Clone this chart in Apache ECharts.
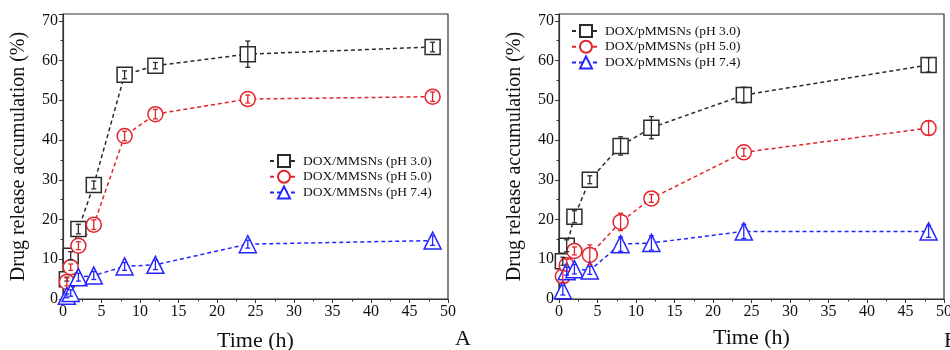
<!DOCTYPE html>
<html>
<head>
<meta charset="utf-8">
<script src="https://cdn.jsdelivr.net/npm/echarts@6/dist/echarts.min.js"></script>
<style>
  html, body { margin: 0; padding: 0; background: #fff; }
  #chart { width: 950px; height: 350px; }
</style>
</head>
<body>
<div id="chart"></div>
<script>
// sampling times (h)
const hours = [0.5, 1, 2, 4, 8, 12, 24, 48]

// panel A: DOX/MMSNs
const mmsnPH30 = [5.0, 10.9, 17.6, 28.7, 56.4, 58.7, 61.6, 63.4]
const mmsnPH50 = [4.3, 8.0, 13.4, 18.7, 41.0, 46.5, 50.3, 50.9]
const mmsnPH74 = [0.8, 1.5, 5.5, 5.9, 8.2, 8.6, 13.8, 14.7]
const mmsnErr30 = [0.5, 1.0, 1.2, 1.0, 1.0, 0.8, 3.3, 1.2]
const mmsnErr50 = [1.0, 0.8, 1.0, 1.2, 1.2, 1.2, 1.0, 1.2]
const mmsnErr74 = [0.5, 0.8, 1.0, 1.0, 1.0, 1.2, 1.0, 1.2]

// panel B: DOX/pMMSNs
const pmmsnPH30 = [9.5, 13.4, 20.7, 30.0, 38.5, 43.1, 51.3, 58.9]
const pmmsnPH50 = [5.7, 8.5, 12.1, 11.1, 19.4, 25.3, 36.9, 43.0]
const pmmsnPH74 = [2.2, 7.0, 7.5, 7.2, 13.8, 14.1, 17.0, 17.0]
const pmmsnErr30 = [1.0, 1.5, 1.5, 1.0, 2.3, 2.8, 2.0, 1.8]
const pmmsnErr50 = [1.5, 1.5, 1.0, 2.5, 2.2, 1.0, 1.0, 1.8]
const pmmsnErr74 = [1.2, 1.0, 1.2, 1.0, 1.8, 1.8, 1.8, 1.5]

const xTicks = [0, 5, 10, 15, 20, 25, 30, 35, 40, 45, 50]
const yTicks = [0, 10, 20, 30, 40, 50, 60, 70]

const FONT = '"Liberation Serif", "Times New Roman", serif'
const AXIS_COLOR = '#333'
const BLACK = '#2b2b2b'
const RED = '#e3242b'
const BLUE = '#2424ff'

const chart = echarts.init(document.getElementById('chart'))

function xAxisFor (gridIndex, nameGap) {
  return {
    gridIndex: gridIndex,
    type: 'value',
    min: xTicks[0],
    max: xTicks[xTicks.length - 1],
    interval: xTicks[1] - xTicks[0],
    name: 'Time (h)',
    nameLocation: 'middle',
    nameGap: nameGap,
    nameTextStyle: { fontFamily: FONT, fontSize: 22, color: '#111' },
    axisLine: { show: true, lineStyle: { color: AXIS_COLOR, width: 1.2 } },
    axisTick: { show: true, length: 4, lineStyle: { color: AXIS_COLOR } },
    minorTick: { show: true, splitNumber: 2, length: 2.5, lineStyle: { color: AXIS_COLOR } },
    axisLabel: { fontFamily: FONT, fontSize: 16, color: '#111', margin: 5 },
    splitLine: { show: false }
  }
}

function yAxisFor (gridIndex) {
  return {
    gridIndex: gridIndex,
    type: 'value',
    min: yTicks[0],
    max: 71.7,
    interval: yTicks[1] - yTicks[0],
    name: 'Drug release accumulation (%)',
    nameLocation: 'middle',
    nameGap: 34,
    nameTextStyle: { fontFamily: FONT, fontSize: 20, color: '#111' },
    axisLine: { show: true, lineStyle: { color: AXIS_COLOR, width: 1.2 } },
    axisTick: { show: true, length: 4, lineStyle: { color: AXIS_COLOR } },
    minorTick: { show: true, splitNumber: 2, length: 2.5, lineStyle: { color: AXIS_COLOR } },
    axisLabel: { fontFamily: FONT, fontSize: 16, color: '#111', margin: 5, showMaxLabel: false },
    splitLine: { show: false }
  }
}

function lineSeries (name, values, color, symbol, gridIndex) {
  return {
    name: name,
    type: 'line',
    xAxisIndex: gridIndex,
    yAxisIndex: gridIndex,
    data: hours.map((h, i) => [h, values[i]]),
    symbol: symbol,
    symbolSize: symbol === 'triangle' ? 17 : 15,
    itemStyle: { color: '#fff', borderColor: color, borderWidth: 1.5 },
    lineStyle: { color: color, width: 1.5, type: [4, 3] },
    z: 3
  }
}

// small vertical error bars with caps
function errorSeries (values, errs, color, gridIndex) {
  return {
    type: 'custom',
    xAxisIndex: gridIndex,
    yAxisIndex: gridIndex,
    data: hours.map((h, i) => [h, values[i], errs[i]]),
    encode: { x: 0, y: 1 },
    z: 4,
    silent: true,
    renderItem: function (params, api) {
      const x = api.value(0)
      const y = api.value(1)
      const e = api.value(2)
      const lo = api.coord([x, y - e])
      const hi = api.coord([x, y + e])
      const cap = 2.5
      const style = { stroke: color, lineWidth: 1.3 }
      return {
        type: 'group',
        children: [
          { type: 'line', shape: { x1: lo[0], y1: lo[1], x2: hi[0], y2: hi[1] }, style: style },
          { type: 'line', shape: { x1: lo[0] - cap, y1: lo[1], x2: lo[0] + cap, y2: lo[1] }, style: style },
          { type: 'line', shape: { x1: hi[0] - cap, y1: hi[1], x2: hi[0] + cap, y2: hi[1] }, style: style }
        ]
      }
    }
  }
}

const legendText = { fontFamily: FONT, fontSize: 13.5, color: '#111' }

chart.setOption({
  animation: false,
  backgroundColor: '#fff',
  grid: [
    { left: 63, right: 502, top: 14, bottom: 51, outerBoundsMode: 'none', containLabel: false, show: true, borderColor: AXIS_COLOR, borderWidth: 1.2 },
    { left: 559, right: 6, top: 14, bottom: 51, outerBoundsMode: 'none', containLabel: false, show: true, borderColor: AXIS_COLOR, borderWidth: 1.2 }
  ],
  legend: [
    {
      data: ['DOX/MMSNs (pH 3.0)', 'DOX/MMSNs (pH 5.0)', 'DOX/MMSNs (pH 7.4)'],
      orient: 'vertical',
      left: 264,
      top: 149,
      itemWidth: 28,
      itemHeight: 15,
      itemGap: 1.7,
      textStyle: legendText
    },
    {
      data: ['DOX/pMMSNs (pH 3.0)', 'DOX/pMMSNs (pH 5.0)', 'DOX/pMMSNs (pH 7.4)'],
      orient: 'vertical',
      left: 566,
      top: 19,
      itemWidth: 28,
      itemHeight: 15,
      itemGap: 1.7,
      textStyle: legendText
    }
  ],
  xAxis: [xAxisFor(0, 31), xAxisFor(1, 28)],
  yAxis: [yAxisFor(0), yAxisFor(1)],
  graphic: [
    { type: 'text', left: 455, top: 328, style: { text: 'A', font: '22px ' + FONT, fill: '#111' } },
    { type: 'text', left: 944, top: 330, style: { text: 'B', font: '22px ' + FONT, fill: '#111' } }
  ],
  series: [
    lineSeries('DOX/MMSNs (pH 3.0)', mmsnPH30, BLACK, 'rect', 0),
    lineSeries('DOX/MMSNs (pH 5.0)', mmsnPH50, RED, 'circle', 0),
    lineSeries('DOX/MMSNs (pH 7.4)', mmsnPH74, BLUE, 'triangle', 0),
    errorSeries(mmsnPH30, mmsnErr30, BLACK, 0),
    errorSeries(mmsnPH50, mmsnErr50, RED, 0),
    errorSeries(mmsnPH74, mmsnErr74, BLUE, 0),
    lineSeries('DOX/pMMSNs (pH 3.0)', pmmsnPH30, BLACK, 'rect', 1),
    lineSeries('DOX/pMMSNs (pH 5.0)', pmmsnPH50, RED, 'circle', 1),
    lineSeries('DOX/pMMSNs (pH 7.4)', pmmsnPH74, BLUE, 'triangle', 1),
    errorSeries(pmmsnPH30, pmmsnErr30, BLACK, 1),
    errorSeries(pmmsnPH50, pmmsnErr50, RED, 1),
    errorSeries(pmmsnPH74, pmmsnErr74, BLUE, 1)
  ]
})
</script>
</body>
</html>
